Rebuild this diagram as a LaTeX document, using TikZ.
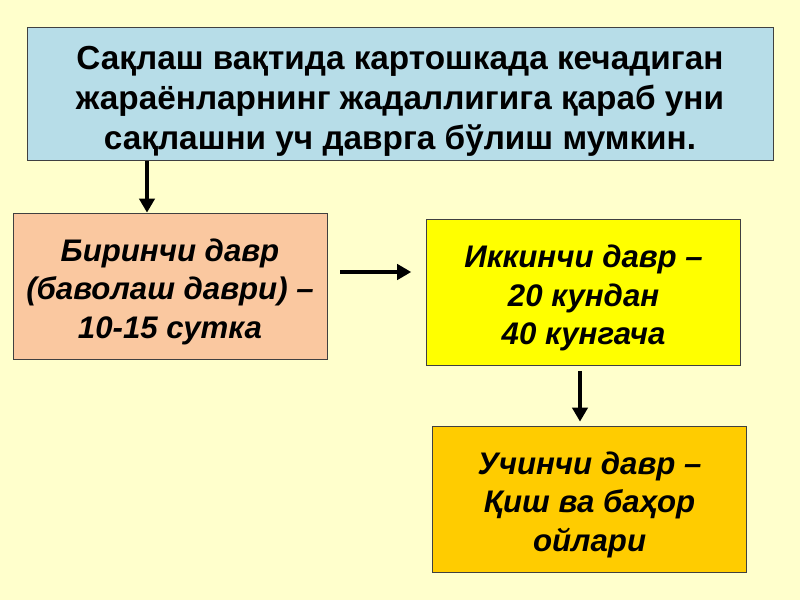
\documentclass[tikz,border=0pt]{standalone}
\usepackage{fontspec}
\setmainfont{Liberation Sans}
\usepackage{tikz}
\usetikzlibrary{positioning,arrows.meta,calc}
\definecolor{SAQbg}{HTML}{FFFFCC}
\definecolor{SAQblue}{HTML}{B7DDE8}
\definecolor{SAQpeach}{HTML}{FAC8A0}
\definecolor{SAQyellow}{HTML}{FFFF00}
\definecolor{SAQgold}{HTML}{FFCC00}
\definecolor{SAQedge}{HTML}{404040}

\begin{document}
\begin{tikzpicture}[
  box/.style={draw=SAQedge, line width=0.6pt, align=center, inner sep=0pt,
    minimum width=7.85cm, minimum height=3.65cm, text height=79pt, text depth=4.6pt,
    font=\fontsize{22.2}{27.3}\selectfont\bfseries\itshape},
  arr/.style={-{Triangle[length=10pt,width=11pt]}, line width=2.2pt}
]
\fill[SAQbg] (0,0) rectangle (20,15);
\useasboundingbox (0,0) rectangle (20,15);

% header and the three periods
\node[box, fill=SAQblue, minimum width=18.65cm, minimum height=3.325cm,
  text height=84pt, text depth=5pt,
  font=\fontsize{23.7}{28.4}\selectfont\bfseries] (intro) at (10,12.66)
  {Сақлаш вақтида картошкада кечадиган\\ жараёнларнинг жадаллигига қараб уни\\ сақлашни уч даврга бўлиш мумкин.};
\node[box, fill=SAQpeach] (first) at (4.25,7.85) {Биринчи давр\\ (баволаш даври) –\\ 10-15 сутка};
\node[box, fill=SAQyellow] (second) at (14.59,7.69) {Иккинчи давр –\\ 20 кундан\\ 40 кунгача};
\node[box, fill=SAQgold] (third) at (14.74,2.525) {Учинчи давр –\\ Қиш ва баҳор\\ ойлари};

% arrows
\coordinate (firstin) at ([xshift=-0.575cm]first.north);
\draw[arr] (intro.south -| firstin) -- (firstin);
\coordinate (firstout) at ([yshift=0.35cm]first.east);
\draw[arr, shorten <=0.325cm, shorten >=0.375cm] (firstout) -- (firstout -| second.west);
\coordinate (secondout) at ([xshift=-0.09cm]second.south);
\draw[arr, shorten <=0.125cm, shorten >=0.1cm] (secondout) -- (secondout |- third.north);
\end{tikzpicture}
\end{document}
